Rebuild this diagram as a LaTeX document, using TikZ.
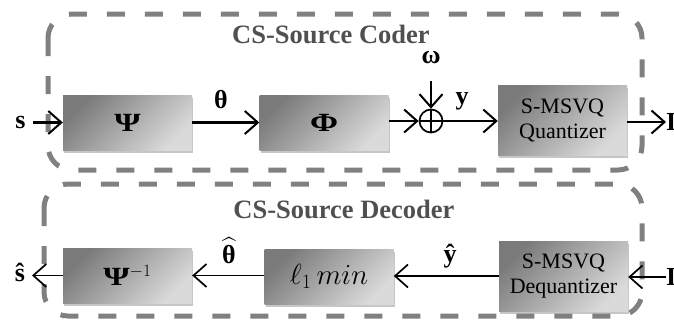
\documentclass[tikz,border=0pt]{standalone}
\usepackage{amsmath}
\usepackage{graphicx}
\usepackage{fontspec}
\setmainfont{Liberation Serif}
\usetikzlibrary{arrows.meta,shadows,calc}
\definecolor{bdark}{HTML}{7A7A7A}
\definecolor{blight}{HTML}{DADADA}
\definecolor{dashgray}{HTML}{808080}
\definecolor{titlegray}{HTML}{505050}
\newcommand{\widegr}[1]{\scalebox{1.35}[1.05]{#1}}
\begin{document}
\begin{tikzpicture}[x=1pt,y=-1pt,
  blk/.style={top color=bdark, bottom color=blight, shading angle=45,
    drop shadow={shadow xshift=1pt,shadow yshift=-3pt,opacity=0.45},
    minimum width=129pt, minimum height=55pt, inner sep=0pt,
    font=\fontsize{25}{28}\selectfont\bfseries},
  qblk/.style={blk, minimum height=70pt, align=center,
    font=\fontsize{22}{25}\selectfont},
  dbox/.style={draw=dashgray, line width=5pt, rounded corners=24pt,
    dash pattern=on 18pt off 20pt},
  lbl/.style={inner sep=0pt, anchor=base, font=\fontsize{26}{30}\selectfont\bfseries},
  ttl/.style={inner sep=0pt, anchor=base, text=titlegray, font=\fontsize{26.5}{30}\selectfont\bfseries},
  arr/.style={line width=2.5pt, -{Straight Barb[length=13pt,width=23pt,line width=2pt]}},
  arrb/.style={line width=1.7pt, -{Straight Barb[length=13pt,width=23pt,line width=1.7pt]}},
  sumc/.style={circle, draw, line width=1.7pt, minimum size=23pt, inner sep=0pt,
    path picture={\draw[line width=1.5pt] (path picture bounding box.north) -- (path picture bounding box.south)
      (path picture bounding box.west) -- (path picture bounding box.east);}}
]
\useasboundingbox (0,0) rectangle (674,327);
% containers
\draw[dbox] (48,14) rectangle (642,170);
\draw[dbox] (44,184) rectangle (642,316);
\node[ttl] (tc) at (331,43) {CS-Source Coder};
\node[ttl] (td) at (344,218) {CS-Source Decoder};
% coder
\node[blk] (psi) at (127.5,122.5) {\widegr{Ψ}};
\node[blk] (phi) at (324,122.5) {\widegr{Φ}};
\node[sumc] (sum) at (431,121) {};
\node[qblk] (quant) at (562.5,120) {S-MSVQ\\Quantizer};
\node[lbl] (s) at (20.5,128) {s};
\coordinate (sin) at (33,122.5);
\node[lbl, anchor=west] (iout) at (666,122) {I};
\node[lbl] (theta) at (221,108) {θ};
\node[lbl] (omega) at (431,63) {ω};
\coordinate (wtop) at (431,81);
\node[lbl] (ylab) at (462,104) {y};
\draw[arr] (sin) -- (psi.west);
\draw[arr] (psi.east) -- (phi.west);
\draw[arr] (phi.east |- sum.west) -- (sum.west);
\draw[arr] (wtop) -- (sum.north);
\draw[arr] (sum.east) -- (sum.east -| quant.west);
\draw[arr] (quant.east |- iout.west) -- (iout.west);
% decoder
\node[blk] (psii) at (127.5,275.5) {\widegr{Ψ}$^{-1}$};
\node[blk, font=\fontsize{24}{28}\selectfont] (lmin) at (329,276.5) {\scalebox{1.17}{$\ell_1\,min$}};
\node[qblk] (deq) at (563.5,276) {S-MSVQ\\Dequantizer};
\node[lbl] (shat) at (20,281) {ŝ};
\coordinate (sout) at (32,275.5);
\node[lbl, anchor=west] (iin) at (666,277) {I};
\node[lbl] (thetahat) at (229,263) {$\widehat{\text{\bfseries θ}}$};
\node[lbl] (yhat) at (450,262) {ŷ};
\draw[arrb] (iin.west) -- (deq.east |- iin.west);
\draw[arrb] (deq.west) -- (deq.west -| lmin.east);
\draw[arrb] (lmin.west |- psii.east) -- (psii.east);
\draw[arrb] (psii.west) -- (sout);
\end{tikzpicture}
\end{document}
